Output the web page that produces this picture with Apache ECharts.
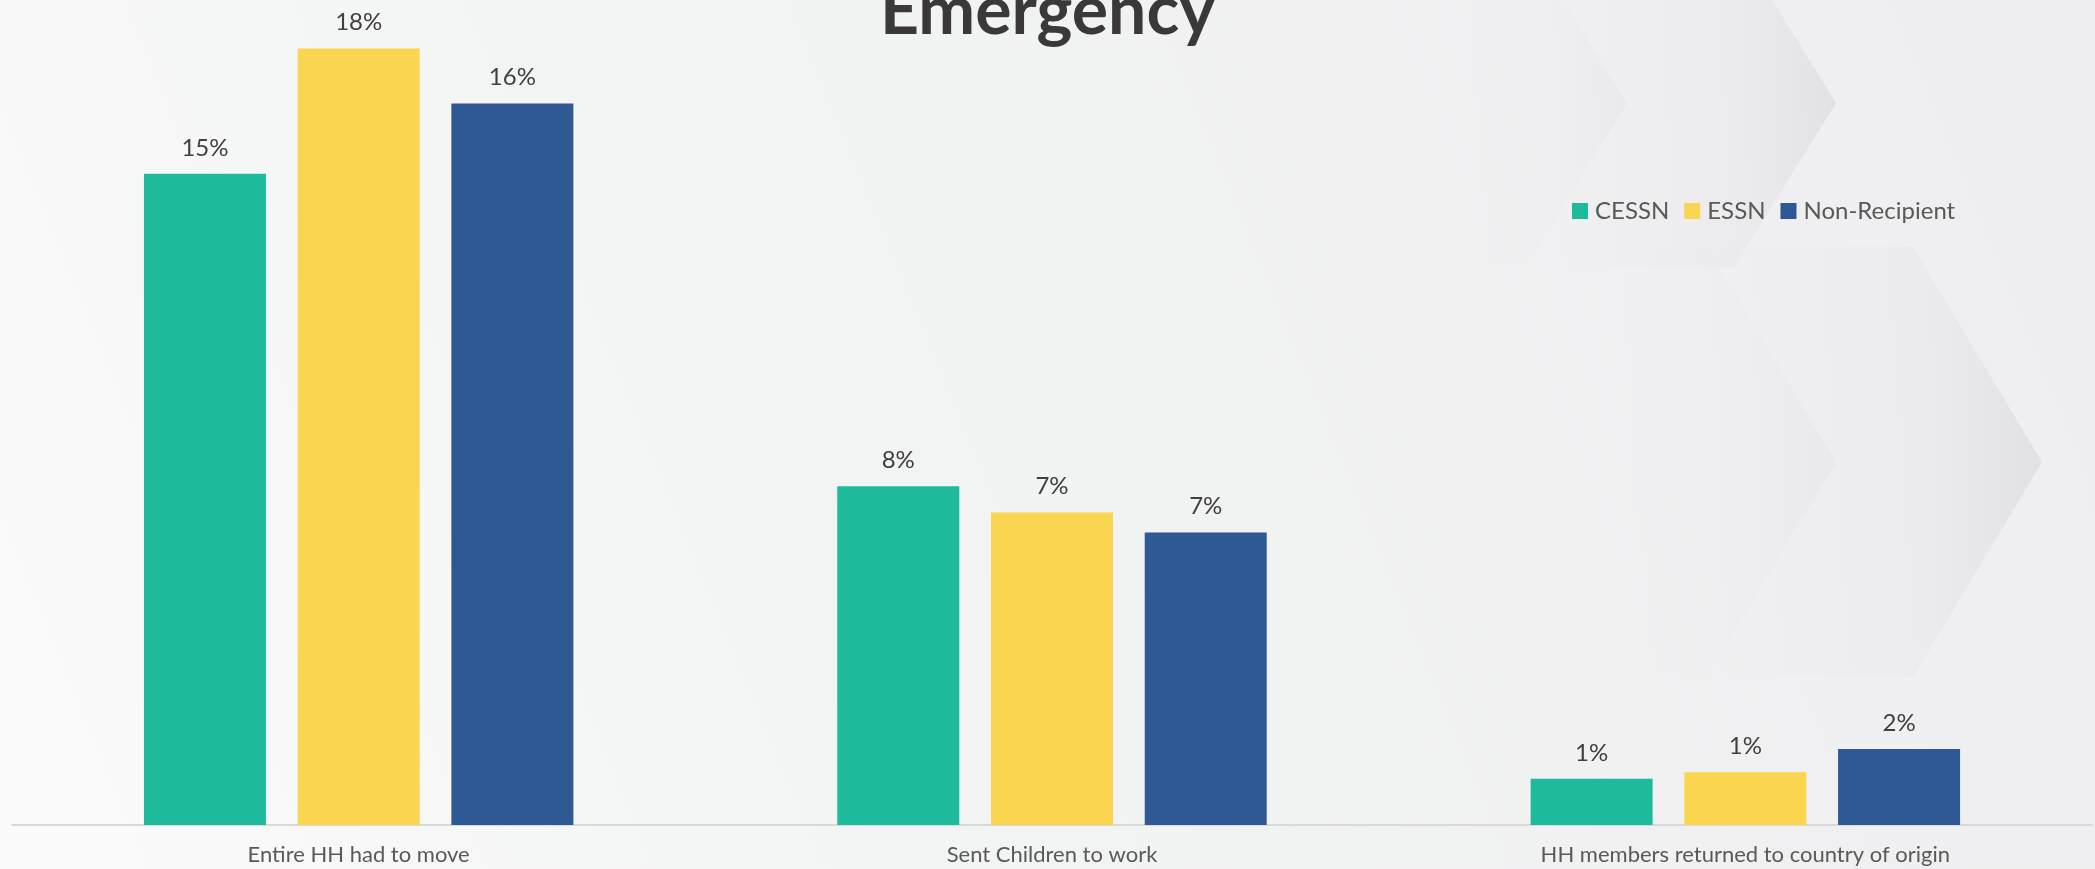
<!DOCTYPE html>
<html>
<head>
<meta charset="utf-8">
<script src="https://cdn.jsdelivr.net/npm/echarts@6/dist/echarts.min.js"></script>
<style>
html,body{margin:0;padding:0;background:#f2f2f3;}
#chart{width:2095px;height:869px;}
</style>
</head>
<body>
<div id="chart"></div>
<script>
const categories = ['Entire HH had to move', 'Sent Children to work', 'HH members returned to country of origin'];
const seriesNames = ['CESSN', 'ESSN', 'Non-Recipient'];
const cessn = [14.8, 7.7, 1.05];
const essn = [17.65, 7.1, 1.2];
const nonRecipient = [16.4, 6.65, 1.73];
const titleText = 'Emergency';
const colors = ['#1DBB9B', '#F9D550', '#2F5995'];

const FONT = 'Lato, "Noto Sans", sans-serif';

function chevron(leftX, tipX, tipY, half, slope, alpha) {
  const back = half * slope;
  return {
    type: 'polygon',
    silent: true,
    z: -10,
    shape: { points: [[leftX, tipY - half], [tipX - back, tipY - half], [tipX, tipY], [tipX - back, tipY + half], [leftX, tipY + half]] },
    style: {
      fill: {
        type: 'linear', x: 0, y: 0, x2: 1, y2: 0, global: false,
        colorStops: [
          { offset: 0, color: 'rgba(120,120,130,0)' },
          { offset: 0.65, color: 'rgba(120,120,130,' + (alpha * 0.3) + ')' },
          { offset: 1, color: 'rgba(120,120,130,' + alpha + ')' }
        ]
      }
    }
  };
}

const chart = echarts.init(document.getElementById('chart'), null, { renderer: 'canvas' });
const mk = (name, data, i) => ({
  name: name,
  type: 'bar',
  data: data,
  barWidth: 122,
  barGap: '26%',
  itemStyle: { color: colors[i] },
  label: {
    show: true,
    position: 'top',
    distance: 14,
    color: '#404040',
    fontFamily: FONT,
    fontSize: 24,
    formatter: p => Math.round(p.value) + '%'
  }
});

chart.setOption({
  animation: false,
  backgroundColor: {
    type: 'linear', x: 0, y: 1, x2: 1, y2: 0,
    colorStops: [
      { offset: 0, color: '#fbfbfb' },
      { offset: 0.35, color: '#f3f4f4' },
      { offset: 1, color: '#eeeef0' }
    ]
  },
  graphic: [
    chevron(1450, 1627, 103, 165, 0.62, 0.04),
    chevron(1550, 1836, 103, 165, 0.62, 0.11),
    chevron(1600, 1836, 462, 215, 0.6, 0.035),
    chevron(1700, 2042, 462, 215, 0.6, 0.11)
  ],
  title: {
    text: titleText,
    left: 'center',
    top: -27,
    textStyle: { fontFamily: FONT, fontWeight: 'bold', fontSize: 68, color: '#3A3838' }
  },
  legend: {
    data: seriesNames,
    left: 1567,
    top: 194,
    icon: 'rect',
    itemWidth: 16,
    itemHeight: 16,
    itemGap: 15,
    textStyle: { fontFamily: FONT, fontSize: 24, color: '#595959', padding: [0, 0, 0, 2] }
  },
  grid: { left: 12, right: 3, top: 0, bottom: 44, containLabel: false },
  xAxis: {
    type: 'category',
    data: categories,
    axisTick: { show: false },
    axisLine: { lineStyle: { color: '#D9D9D9', width: 2 } },
    axisLabel: { color: '#595959', fontFamily: FONT, fontSize: 22, margin: 19, interval: 0 }
  },
  yAxis: {
    type: 'value',
    min: 0,
    max: 18.75,
    show: false,
    splitLine: { show: false }
  },
  series: [mk(seriesNames[0], cessn, 0), mk(seriesNames[1], essn, 1), mk(seriesNames[2], nonRecipient, 2)]
});
</script>
</body>
</html>
